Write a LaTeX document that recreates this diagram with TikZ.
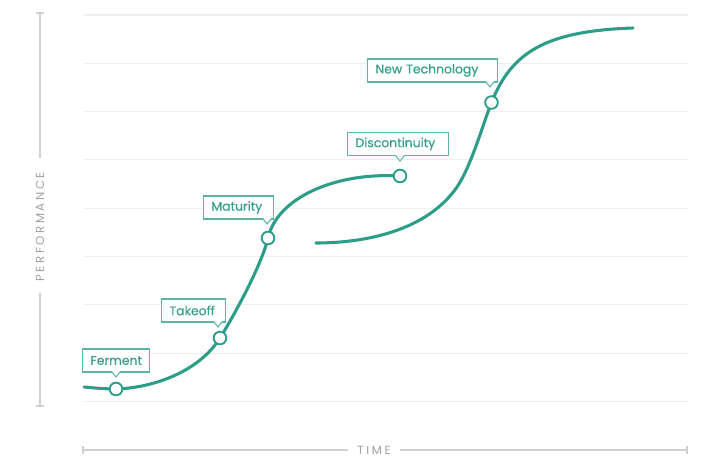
\documentclass[tikz,border=0pt]{standalone}
\usepackage{fontspec}
\setmainfont{Poppins}
\newfontfamily\labelfont{Poppins}[FakeBold=0.6]
\newfontfamily\axisfont{Poppins}[LetterSpace=22]
\definecolor{curveteal}{RGB}{44,157,136}
\definecolor{boxteal}{RGB}{92,180,162}
\definecolor{textteal}{RGB}{56,160,140}
\definecolor{gridgray}{RGB}{239,239,239}
\definecolor{axisgray}{RGB}{208,208,208}
\definecolor{axistext}{RGB}{160,160,160}
\tikzset{
  grid line/.style={draw=gridgray, line width=0.8pt},
  axis line/.style={draw=axisgray, line width=0.9pt},
  axis label/.style={text=axistext, font=\axisfont\fontsize{8.8}{10}\selectfont, inner sep=0pt},
  scurve/.style={draw=curveteal, line width=2.3pt, line cap=round},
  marker/.style={circle, draw=curveteal, fill=white, line width=1.4pt, minimum size=9.5pt, inner sep=0pt},
  callout/.style={draw=boxteal, fill=white, line width=0.8pt, text=textteal,
    font=\labelfont\fontsize{9.3}{11}\selectfont, minimum height=17.25pt,
    inner xsep=6pt, inner ysep=0pt, align=left, anchor=west},
  pointer/.style={draw=boxteal, line width=0.8pt}
}
\begin{document}
\begin{tikzpicture}[x=0.75pt,y=-0.75pt]
\useasboundingbox (0,0) rectangle (720,470);
% grid
\foreach \k in {0,...,8}{
  \draw[grid line] (84,{15+48.3*\k}) -- (688,{15+48.3*\k});
}
% y axis
\draw[axis line] (40,13) -- (40,158);
\draw[axis line] (36,13) -- (44,13);
\draw[axis line] (40,293) -- (40,406);
\draw[axis line] (36,406) -- (44,406);
\node[axis label, rotate=90] (perf) at (40,227) {PERFORMANCE};
% x axis
\draw[axis line] (83,446) -- (83,454);
\draw[axis line] (83,450) -- (348,450);
\node[axis label] (time) at (374,450) {TIME};
\draw[axis line] (400,450) -- (687,450);
\draw[axis line] (687,446) -- (687,454);
% curve points
\coordinate (s1) at (84,387);
\coordinate (f) at (116,389);
\coordinate (t) at (220,338);
\coordinate (m) at (268,238);
\coordinate (d) at (400,176);
\coordinate (s2) at (316,243);
\coordinate (p) at (457,187);
\coordinate (n) at (491.5,102.5);
\coordinate (e) at (633,28);
% curves
\draw[scurve] (s1) .. controls (95,388) and (105,389) .. (f)
  .. controls (151,388) and (198,373) .. (t)
  .. controls (235,314) and (262,264) .. (m)
  .. controls (277,198) and (335,172) .. (d);
\draw[scurve] (s2) .. controls (366,243) and (427,230.5) .. (p)
  .. controls (471,166.7) and (483.5,122.5) .. (n)
  .. controls (511.5,52.5) and (545,31) .. (e);
% markers
\node[marker] (ferment) at (f) {};
\node[marker] (takeoff) at (t) {};
\node[marker] (maturity) at (m) {};
\node[marker] (discont) at (d) {};
\node[marker] (newtech) at (n) {};
% callouts
\node[callout, text width={50.25pt-12pt}] (fermentL) at (82,360.5) {Ferment};
\node[callout, text width={48pt-12pt}] (takeoffL) at (161,310.5) {Takeoff};
\node[callout, text width={52.5pt-12pt}] (maturityL) at (203,207.5) {Maturity};
\node[callout, text width={75.75pt-12pt}] (discontL) at (347,144) {Discontinuity};
\node[callout, text width={97.5pt-12pt}] (newtechL) at (367,70.5) {New Technology};
% pointers
\coordinate (fermentP) at (116,377);
\coordinate (takeoffP) at (218,327);
\coordinate (maturityP) at (267,224);
\coordinate (discontP) at (400,161);
\coordinate (newtechP) at (490,87);
\foreach \pt in {fermentP,takeoffP,maturityP,discontP,newtechP}{
  \fill[white] (\pt) ++(-4,-5.8) -- (\pt) -- ++(4,-5.8) -- cycle;
  \draw[pointer] (\pt) ++(-4,-5) -- (\pt) -- ++(4,-5);
}
\end{tikzpicture}
\end{document}
